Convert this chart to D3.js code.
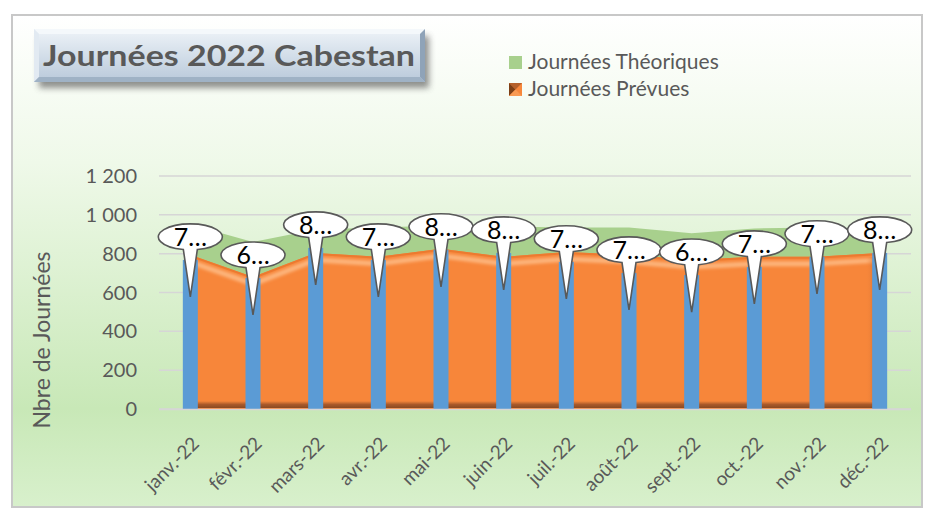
<!DOCTYPE html>
<html>
<head>
<meta charset="utf-8">
<script src="https://cdn.jsdelivr.net/npm/d3@7"></script>
<style>
  body { margin: 0; background: #ffffff; }
  text { font-family: Lato, "Open Sans", sans-serif; }
</style>
</head>
<body>
<div id="chart"></div>
<script>
// month labels
const months = ["janv.-22", "févr.-22", "mars-22", "avr.-22", "mai-22", "juin-22",
                "juil.-22", "août-22", "sept.-22", "oct.-22", "nov.-22", "déc.-22"];
// Journées Théoriques (green area)
const theoriques = [950, 860, 925, 935, 945, 940, 935, 935, 905, 930, 935, 925];
// Journées Prévues (orange area)
const prevues = [794, 680, 804, 784, 825, 784, 808, 794, 768, 784, 784, 804];
// blue columns, labelled with callouts
const colonnes = [768, 675, 830, 768, 820, 804, 758, 701, 690, 732, 784, 804];
const yTicks = [0, 200, 400, 600, 800, 1000, 1200];

const width = 925, height = 512;
const plotLeft = 159, plotRight = 911, plotTop = 176, plotBottom = 409;

const svg = d3.select("#chart").append("svg")
  .attr("width", width).attr("height", height);

const defs = svg.append("defs");

const bg = defs.append("linearGradient").attr("id", "bg")
  .attr("x1", 0).attr("y1", 0).attr("x2", 0).attr("y2", 1);
bg.append("stop").attr("offset", "0").attr("stop-color", "#ffffff");
bg.append("stop").attr("offset", "0.3").attr("stop-color", "#eff9e9");
bg.append("stop").attr("offset", "0.8").attr("stop-color", "#c8e8b7");
bg.append("stop").attr("offset", "1").attr("stop-color", "#d8f0cc");

const tf = defs.append("linearGradient").attr("id", "titlefill")
  .attr("x1", 0).attr("y1", 0).attr("x2", 0).attr("y2", 1);
tf.append("stop").attr("offset", "0").attr("stop-color", "#eef3f8");
tf.append("stop").attr("offset", "0.5").attr("stop-color", "#d3dee9");
tf.append("stop").attr("offset", "1").attr("stop-color", "#b9c9da");

const ob = defs.append("linearGradient").attr("id", "orangebottom")
  .attr("x1", 0).attr("y1", 0).attr("x2", 0).attr("y2", 1);
ob.append("stop").attr("offset", "0").attr("stop-color", "#f7873b");
ob.append("stop").attr("offset", "0.5").attr("stop-color", "#a9592a");
ob.append("stop").attr("offset", "1").attr("stop-color", "#8a4a22");

const orr = defs.append("linearGradient").attr("id", "orangeright")
  .attr("x1", 0).attr("y1", 0).attr("x2", 1).attr("y2", 0);
orr.append("stop").attr("offset", "0").attr("stop-color", "#f7873b").attr("stop-opacity", 0);
orr.append("stop").attr("offset", "1").attr("stop-color", "#a9592a").attr("stop-opacity", 0.9);

defs.append("filter").attr("id", "blur").append("feGaussianBlur").attr("stdDeviation", 1.6);
defs.append("filter").attr("id", "shadow")
  .attr("x", "-10%").attr("y", "-20%").attr("width", "130%").attr("height", "160%")
  .append("feGaussianBlur").attr("stdDeviation", 3);

// background frame
svg.append("rect").attr("x", 12).attr("y", 15).attr("width", 910).attr("height", 492)
  .attr("fill", "url(#bg)").attr("stroke", "#c8c8c8").attr("stroke-width", 2);

const x = d3.scalePoint().domain(months).range([plotLeft, plotRight]).padding(0.5);
const y = d3.scaleLinear().domain([0, 1200]).range([plotBottom, plotTop]);
const fmt = d3.formatLocale({decimal: ",", thousands: "\u00a0", grouping: [3], currency: ["", " €"]}).format(",d");

// gridlines
svg.append("g").selectAll("line").data(yTicks).join("line")
  .attr("x1", plotLeft).attr("x2", plotRight)
  .attr("y1", d => y(d)).attr("y2", d => y(d))
  .attr("stroke", "#d6d6d6").attr("stroke-width", 1.5);

// y axis tick labels
svg.append("g").selectAll("text").data(yTicks).join("text")
  .attr("x", 137).attr("y", d => y(d) + 7)
  .attr("text-anchor", "end").attr("font-size", 20).attr("fill", "#595959")
  .text(d => fmt(d));

// y title
svg.append("text")
  .attr("transform", "translate(50,340) rotate(-90)")
  .attr("text-anchor", "middle").attr("font-size", 23).attr("fill", "#595959")
  .text("Nbre de Journées");

// green area
const area = d3.area().x((d, i) => x(months[i])).y0(y(0)).y1(d => y(d));
svg.append("path").datum(theoriques).attr("d", area).attr("fill", "#a8d08d");

// orange area with bevel look
svg.append("path").datum(prevues).attr("d", area).attr("fill", "#f7863a");
const topLine = d3.line().x((d, i) => x(months[i])).y(d => y(d) + 7);
svg.append("path").datum(prevues).attr("d", topLine)
  .attr("fill", "none").attr("stroke", "#fdb47a").attr("stroke-width", 5)
  .attr("filter", "url(#blur)");
const edgeLine = d3.line().x((d, i) => x(months[i])).y(d => y(d) + 1);
svg.append("path").datum(prevues).attr("d", edgeLine)
  .attr("fill", "none").attr("stroke", "#ec7a30").attr("stroke-width", 2);
svg.append("rect")
  .attr("x", x(months[0])).attr("y", y(0) - 8)
  .attr("width", x(months[11]) - x(months[0])).attr("height", 7)
  .attr("fill", "url(#orangebottom)");
svg.append("rect")
  .attr("x", x(months[11]) - 14).attr("y", y(prevues[11]) + 4)
  .attr("width", 14).attr("height", y(0) - y(prevues[11]) - 12)
  .attr("fill", "url(#orangeright)");

// blue columns
const bw = 15;
svg.append("g").selectAll("rect").data(colonnes).join("rect")
  .attr("x", (d, i) => x(months[i]) - bw / 2)
  .attr("y", d => y(d))
  .attr("width", bw).attr("height", d => y(0) - y(d))
  .attr("fill", "#5b9bd5");

// x axis line
svg.append("line").attr("x1", plotLeft).attr("x2", plotRight)
  .attr("y1", y(0) + 0.5).attr("y2", y(0) + 0.5)
  .attr("stroke", "#d6d6d6").attr("stroke-width", 1.5);

// callouts
const rx = 32, ry = 13, hw = 7;
const by = ry * Math.sqrt(1 - (hw / rx) * (hw / rx));
const callouts = svg.append("g").selectAll("g").data(colonnes).join("g")
  .attr("transform", (d, i) => `translate(${x(months[i])},${y(d) - 23})`);
callouts.append("path")
  .attr("d", `M${-hw},${by} A${rx},${ry} 0 1 1 ${hw},${by} L0,60 Z`)
  .attr("fill", "#ffffff").attr("stroke", "#595959").attr("stroke-width", 1.6);
callouts.append("text")
  .attr("x", 0).attr("y", 9).attr("text-anchor", "middle")
  .attr("font-size", 25).attr("fill", "#000000")
  .text(d => String(d)[0] + "…");

// x labels
svg.append("g").selectAll("text").data(months).join("text")
  .attr("transform", d => `translate(${x(d) + 10},${y(0) + 36}) rotate(-45)`)
  .attr("text-anchor", "end").attr("font-size", 19).attr("fill", "#595959")
  .text(d => d);

// title box
svg.append("rect").attr("x", 39).attr("y", 36).attr("width", 390).attr("height", 52)
  .attr("fill", "#4a4a4a").attr("opacity", 0.6).attr("filter", "url(#shadow)");
svg.append("rect").attr("x", 34).attr("y", 29).attr("width", 391).attr("height", 53)
  .attr("fill", "url(#titlefill)");
// bevel edges
const bx0 = 34, by0 = 29, bx1 = 425, by1 = 82, bv = 5;
svg.append("path").attr("d", `M${bx0},${by0}L${bx1},${by0}L${bx1 - bv},${by0 + bv}L${bx0 + bv},${by0 + bv}Z`).attr("fill", "#f4f8fb");
svg.append("path").attr("d", `M${bx0},${by0}L${bx0 + bv},${by0 + bv}L${bx0 + bv},${by1 - bv}L${bx0},${by1}Z`).attr("fill", "#e2eaf2");
svg.append("path").attr("d", `M${bx1},${by0}L${bx1},${by1}L${bx1 - bv},${by1 - bv}L${bx1 - bv},${by0 + bv}Z`).attr("fill", "#8fa3b8");
svg.append("path").attr("d", `M${bx0},${by1}L${bx0 + bv},${by1 - bv}L${bx1 - bv},${by1 - bv}L${bx1},${by1}Z`).attr("fill", "#9fb2c5");
svg.append("text").attr("x", 229).attr("y", 66).attr("text-anchor", "middle")
  .attr("font-size", 29).attr("font-weight", "bold").attr("fill", "#595959")
  .attr("textLength", 372).attr("lengthAdjust", "spacingAndGlyphs")
  .text("Journées 2022 Cabestan");

// legend
const legend = svg.append("g").attr("transform", "translate(509,56)");
legend.append("rect").attr("x", 0).attr("y", 0).attr("width", 13).attr("height", 13).attr("fill", "#a8d08d");
legend.append("text").attr("x", 19).attr("y", 13).attr("font-size", 21).attr("fill", "#595959")
  .text("Journées Théoriques");
const m = legend.append("g").attr("transform", "translate(0,27)");
m.append("rect").attr("width", 13).attr("height", 13).attr("fill", "#f7873b");
m.append("path").attr("d", "M0,0L13,0L6.5,6.5Z").attr("fill", "#b5602a");
m.append("path").attr("d", "M0,0L6.5,6.5L0,13Z").attr("fill", "#7d3f16");
m.append("path").attr("d", "M0,13L6.5,6.5L13,13Z").attr("fill", "#f99a52");
legend.append("text").attr("x", 19).attr("y", 40).attr("font-size", 21).attr("fill", "#595959")
  .text("Journées Prévues");
</script>
</body>
</html>
